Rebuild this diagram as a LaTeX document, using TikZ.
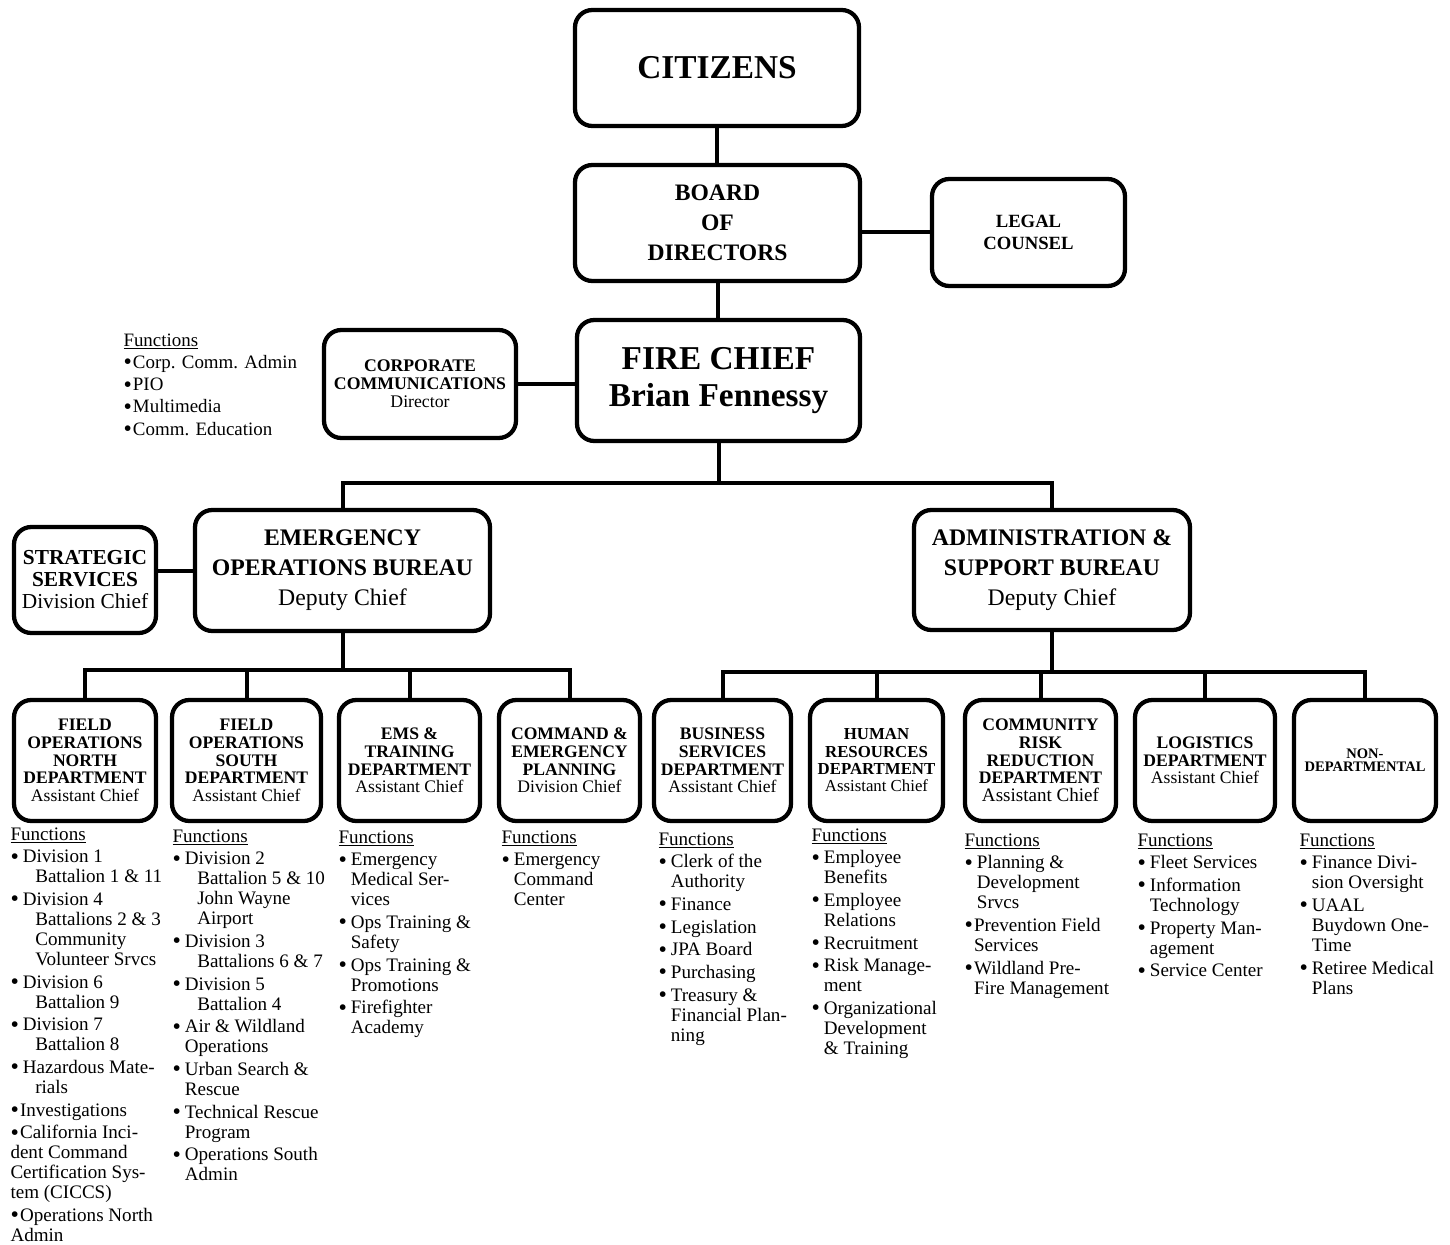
\documentclass[tikz,border=0pt]{standalone}
\usepackage{fontspec}
\setmainfont{Liberation Serif}
\tikzset{every picture/.style={line width=0.75pt}}
\tikzset{
  unit/.style={draw, line width=3.2pt, rounded corners=13pt, align=center, inner sep=0pt},
  boxsize/.style 2 args={minimum width=#1*0.75pt, minimum height=#2*0.75pt},
  link/.style={line width=3pt, line cap=rect},
  duties/.style={anchor=north west, align=left, inner sep=0pt, font=\fontsize{14.3}{15}\selectfont},
  deptfont/.style={font=\fontsize{13.2}{13.3}\selectfont\bfseries}
}
\newcommand{\fndot}{\raisebox{-0.08em}{\scalebox{1.25}{\textbullet}}}
\newcommand{\fnitem}{\makebox[0.65em][l]{\fndot}}
\newcommand{\fntight}{\makebox[0.5em][l]{\fndot}}
\newcommand{\fncont}{\hspace*{0.65em}}
\newcommand{\fnshort}{\hspace*{0.5em}}
\newcommand{\fndeep}{\hspace*{1.3em}}
\newcommand{\fngap}{\\[2pt]}
\newcommand{\rank}[1]{{\mdseries #1}}

\begin{document}
\begin{tikzpicture}[x=0.75pt,y=0.75pt,yscale=-1,xscale=1]
\useasboundingbox (0,0) rectangle (1450,1245);

%Shape: Rounded Rect [id:citizens]
\node [unit, boxsize={284}{116}, font=\fontsize{25}{28}\selectfont\bfseries] (citizens) at (717,68) {CITIZENS};
%Shape: Rounded Rect [id:board]
\node [unit, boxsize={285}{116}, font=\fontsize{17.7}{22.5}\selectfont\bfseries] (board) at (717.5,223) {BOARD\\OF\\DIRECTORS};
%Shape: Rounded Rect [id:legal]
\node [unit, boxsize={193}{107}, font=\fontsize{14}{16.5}\selectfont\bfseries] (legal) at (1028.5,232.5) {LEGAL\\COUNSEL};
%Shape: Rounded Rect [id:chief]
\node [unit, boxsize={283}{121}, font=\fontsize{25}{28}\selectfont\bfseries] (chief) at (718.5,380.5) {FIRE CHIEF\\Brian Fennessy};
%Shape: Rounded Rect [id:corp]
\node [unit, boxsize={192}{108}, font=\fontsize{13.3}{13.5}\selectfont\bfseries] (corp) at (420,384) {CORPORATE\\COMMUNICATIONS\\\rank{Director}};
%Shape: Rounded Rect [id:strat]
\node [unit, boxsize={142}{106}, font=\fontsize{16}{16.5}\selectfont\bfseries] (strat) at (85,580) {STRATEGIC\\SERVICES\\\rank{Division Chief}};
%Shape: Rounded Rect [id:eob]
\node [unit, boxsize={295}{121}, font=\fontsize{17.8}{22.5}\selectfont\bfseries] (eob) at (342.5,570.5) {EMERGENCY\\OPERATIONS BUREAU\\\rank{Deputy Chief}};
%Shape: Rounded Rect [id:asb]
\node [unit, boxsize={276}{120}, font=\fontsize{17.8}{22.5}\selectfont\bfseries] (asb) at (1052,570) {ADMINISTRATION \&\\SUPPORT BUREAU\\\rank{Deputy Chief}};

%Shape: Rounded Rect [id:fon]
\node [unit, boxsize={142}{121}, deptfont] (fon) at (85,760.5) {FIELD\\OPERATIONS\\NORTH\\DEPARTMENT\\\rank{Assistant Chief}};
%Shape: Rounded Rect [id:fos]
\node [unit, boxsize={149}{121}, deptfont] (fos) at (246.5,760.5) {FIELD\\OPERATIONS\\SOUTH\\DEPARTMENT\\\rank{Assistant Chief}};
%Shape: Rounded Rect [id:ems]
\node [unit, boxsize={141}{121}, deptfont] (ems) at (409.5,760.5) {EMS \&\\TRAINING\\DEPARTMENT\\\rank{Assistant Chief}};
%Shape: Rounded Rect [id:cep]
\node [unit, boxsize={141}{121}, deptfont] (cep) at (569.5,760.5) {COMMAND \&\\EMERGENCY\\PLANNING\\\rank{Division Chief}};
%Shape: Rounded Rect [id:bsd]
\node [unit, boxsize={137}{121}, deptfont] (bsd) at (722.5,760.5) {BUSINESS\\SERVICES\\DEPARTMENT\\\rank{Assistant Chief}};
%Shape: Rounded Rect [id:hr]
\node [unit, boxsize={133}{121}, font=\fontsize{12.6}{13}\selectfont\bfseries] (hr) at (876.5,760.5) {HUMAN\\RESOURCES\\DEPARTMENT\\\rank{Assistant Chief}};
%Shape: Rounded Rect [id:crr]
\node [unit, boxsize={151}{121}, deptfont] (crr) at (1040.5,760.5) {COMMUNITY\\RISK\\REDUCTION\\DEPARTMENT\\\rank{\fontsize{14.3}{13.3}\selectfont Assistant Chief}};
%Shape: Rounded Rect [id:logi]
\node [unit, boxsize={140}{121}, deptfont] (logi) at (1205,760.5) {LOGISTICS\\DEPARTMENT\\\rank{Assistant Chief}};
%Shape: Rounded Rect [id:nondept]
\node [unit, boxsize={142}{121}, font=\fontsize{10.9}{10}\selectfont\bfseries] (nondept) at (1365,760.5) {NON-\\DEPARTMENTAL};

%Straight Lines [id:top chain]
\draw [link] (citizens.south) -- (citizens.south |- board.north);
\draw [link] (board.south) -- (board.south |- chief.north);
\draw [link] (legal.west) -- (legal.west -| board.east);
\draw [link] (corp.east) -- (corp.east -| chief.west);
%Straight Lines [id:bureau bar]
\coordinate (chiefbar) at (0,483);
\draw [link] (chief.south) -- (chief.south |- chiefbar);
\draw [link] (eob.north) -- (eob.north |- chiefbar) -- (asb.north |- chiefbar) -- (asb.north);
\draw [link] (eob.west -| strat.east) -- (eob.west);
%Straight Lines [id:eob bar]
\coordinate (eobbar) at (0,670);
\draw [link] (eob.south) -- (eob.south |- eobbar);
\draw [link] (fon.north |- eobbar) -- (cep.north |- eobbar);
\foreach \d in {fon,fos,ems,cep}
  \draw [link] (\d.north) -- (\d.north |- eobbar);
%Straight Lines [id:asb bar]
\coordinate (asbbar) at (0,672);
\draw [link] (asb.south) -- (asb.south |- asbbar);
\draw [link] (bsd.north |- asbbar) -- (nondept.north |- asbbar);
\foreach \d in {bsd,hr,crr,logi,nondept}
  \draw [link] (\d.north) -- (\d.north |- asbbar);

% Text Node
\node [duties, font=\fontsize{14.2}{16.7}\selectfont] (corplist) at (123,333) {\underline{Functions}\\
\fntight Corp. Comm. Admin\\
\fntight PIO\\
\fntight Multimedia\\
\fntight Comm. Education};
% Text Node
\node [duties] (fonlist) at (10,827) {\underline{Functions}\fngap
\fnitem Division 1\\
\fndeep Battalion 1 \& 11\fngap
\fnitem Division 4\\
\fndeep Battalions 2 \& 3\\
\fndeep Community\\
\fndeep Volunteer Srvcs\fngap
\fnitem Division 6\\
\fndeep Battalion 9\fngap
\fnitem Division 7\\
\fndeep Battalion 8\fngap
\fnitem Hazardous Mate-\\
\fndeep rials\fngap
\fntight Investigations\fngap
\fntight California Inci-\\
dent Command\\
Certification Sys-\\
tem (CICCS)\fngap
\fntight Operations North\\
Admin};
% Text Node
\node [duties] (foslist) at (172,829) {\underline{Functions}\fngap
\fnitem Division 2\\
\fndeep Battalion 5 \& 10\\
\fndeep John Wayne\\
\fndeep Airport\fngap
\fnitem Division 3\\
\fndeep Battalions 6 \& 7\fngap
\fnitem Division 5\\
\fndeep Battalion 4\fngap
\fnitem Air \& Wildland\\
\fncont Operations\fngap
\fnitem Urban Search \&\\
\fncont Rescue\fngap
\fnitem Technical Rescue\\
\fncont Program\fngap
\fnitem Operations South\\
\fncont Admin};
% Text Node
\node [duties] (emslist) at (338,830) {\underline{Functions}\fngap
\fnitem Emergency\\
\fncont Medical Ser-\\
\fncont vices\fngap
\fnitem Ops Training \&\\
\fncont Safety\fngap
\fnitem Ops Training \&\\
\fncont Promotions\fngap
\fnitem Firefighter\\
\fncont Academy};
% Text Node
\node [duties] (ceplist) at (501,830) {\underline{Functions}\fngap
\fnitem Emergency\\
\fncont Command\\
\fncont Center};
% Text Node
\node [duties] (bsdlist) at (658,832) {\underline{Functions}\fngap
\fnitem Clerk of the\\
\fncont Authority\fngap
\fnitem Finance\fngap
\fnitem Legislation\fngap
\fnitem JPA Board\fngap
\fnitem Purchasing\fngap
\fnitem Treasury \&\\
\fncont Financial Plan-\\
\fncont ning};
% Text Node
\node [duties] (hrlist) at (811,828) {\underline{Functions}\fngap
\fnitem Employee\\
\fncont Benefits\fngap
\fnitem Employee\\
\fncont Relations\fngap
\fnitem Recruitment\fngap
\fnitem Risk Manage-\\
\fncont ment\fngap
\fnitem Organizational\\
\fncont Development\\
\fncont \& Training};
% Text Node
\node [duties] (crrlist) at (964,833) {\underline{Functions}\fngap
\fnitem Planning \&\\
\fncont Development\\
\fncont Srvcs\fngap
\fntight Prevention Field\\
\fnshort Services\fngap
\fntight Wildland Pre-\\
\fnshort Fire Management};
% Text Node
\node [duties] (logilist) at (1137,833) {\underline{Functions}\fngap
\fnitem Fleet Services\fngap
\fnitem Information\\
\fncont Technology\fngap
\fnitem Property Man-\\
\fncont agement\fngap
\fnitem Service Center};
% Text Node
\node [duties] (nondeptlist) at (1299,833) {\underline{Functions}\fngap
\fnitem Finance Divi-\\
\fncont sion Oversight\fngap
\fnitem UAAL\\
\fncont Buydown One-\\
\fncont Time\fngap
\fnitem Retiree Medical\\
\fncont Plans};
\end{tikzpicture}
\end{document}
